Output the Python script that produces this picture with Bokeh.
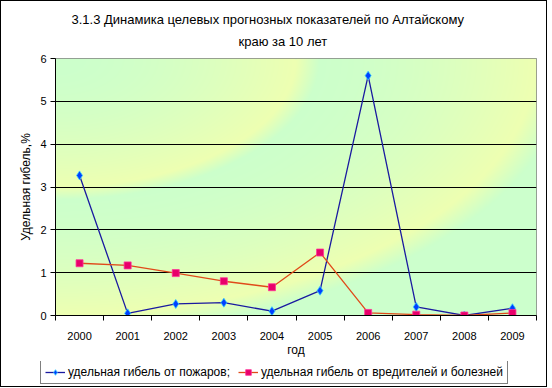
import numpy as np
from bokeh.plotting import figure
from bokeh.layouts import column
from bokeh.models import FixedTicker, Legend, LegendItem, Title
from bokeh.embed import file_html
from bokeh.resources import INLINE

years = ["2000", "2001", "2002", "2003", "2004", "2005", "2006", "2007", "2008", "2009"]
fires = [3.27, 0.05, 0.27, 0.30, 0.10, 0.58, 5.6, 0.20, 0.0, 0.17]
pests = [1.22, 1.17, 0.99, 0.80, 0.66, 1.47, 0.06, 0.02, 0.0, 0.06]
y_ticks = [0, 1, 2, 3, 4, 5, 6]
names = ["удельная гибель от пожаров;", "удельная гибель от вредителей и болезней"]
title1 = "3.1.3 Динамика целевых прогнозных показателей по Алтайскому"
title2 = "краю за 10 лет"

FONT = "Liberation Sans"
xs = list(range(len(years)))
FRW, FRH = 481, 257

p = figure(frame_width=FRW, frame_height=FRH, output_backend="svg", toolbar_location=None,
           x_range=(-0.5, len(years) - 0.5), y_range=(0, 6),
           min_border_left=0, min_border_right=10, min_border_top=0, min_border_bottom=0)
p.margin = (12, 0, 2, 15)

# background gradient (elliptical rings from top-left corner)
H, W = FRH, FRW
vv = 1.0 - np.linspace(0, 1, H)[:, None]
uu = np.linspace(0, 1, W)[None, :]
r = np.sqrt(uu ** 2 + vv ** 2)
t = np.where(r <= 1.02, ((r % 0.5) / 0.5) ** 1.7, 0.0)
t = np.where((r > 0.5) & (r < 0.55), 1.0 - (r - 0.5) / 0.05, t)
t = np.where((r > 1.0) & (r < 1.07), 1.0 - (r - 1.0) / 0.07, t)
t = np.clip(t, 0, 1)
green = np.array([204, 255, 204])
yellow = np.array([238, 255, 178])
img = np.zeros((H, W), dtype=np.uint32)
view = img.view(dtype=np.uint8).reshape((H, W, 4))
for k in range(3):
    view[:, :, k] = (green[k] + (yellow[k] - green[k]) * t).astype(np.uint8)
view[:, :, 3] = 255
bg = p.image_rgba(image=[img], x=-0.5, y=0, dw=len(years), dh=6)
bg.level = "image"

p.title.visible = False
tkw = dict(align="left", text_font=FONT, text_font_size="13px",
           text_font_style="normal", text_color="black")
p.add_layout(Title(text=title2, standoff=19, offset=183, **tkw), "above")
p.add_layout(Title(text=title1, standoff=-8, offset=16, **tkw), "above")

s1 = dict(line_color="#1a1aa0", line_width=1.3)
k1 = dict(marker="diamond", size=9, fill_color="#0040ff", line_color="#33ccff", line_width=0.8)
s2 = dict(line_color="#e04a1a", line_width=1.3)
k2 = dict(marker="square", size=7, fill_color="#e8006a", line_color="#ff3399", line_width=0.8)

p.line(xs, fires, **s1)
p.scatter(xs, fires, **k1)
p.line(xs, pests, **s2)
p.scatter(xs, pests, **k2)

# axes
p.xaxis.ticker = FixedTicker(ticks=xs, minor_ticks=[i - 0.5 for i in range(len(years) + 1)])
p.xaxis.major_label_overrides = {i: y for i, y in enumerate(years)}
p.xaxis.major_tick_line_color = None
p.xaxis.minor_tick_out = 5
p.xaxis.minor_tick_in = 0
p.xaxis.minor_tick_line_color = "black"
p.xaxis.axis_line_color = "black"
p.xaxis.axis_label = "год"
p.xaxis.major_label_standoff = 10
p.xaxis.axis_label_standoff = 0

p.yaxis.ticker = FixedTicker(ticks=y_ticks)
p.yaxis.major_tick_out = 5
p.yaxis.major_tick_in = 0
p.yaxis.minor_tick_line_color = None
p.yaxis.axis_line_color = "black"
p.yaxis.major_tick_line_color = "black"
p.yaxis.axis_label = "Удельная гибель,%"
p.yaxis.major_label_standoff = 4
p.yaxis.axis_label_standoff = 4

for ax in (p.xaxis[0], p.yaxis[0]):
    ax.major_label_text_font = FONT
    ax.major_label_text_font_size = "11px"
    ax.major_label_text_color = "black"
    ax.axis_label_text_font = FONT
    ax.axis_label_text_font_size = "12px"
    ax.axis_label_text_font_style = "normal"
    ax.axis_label_text_color = "black"

p.xgrid.grid_line_color = None
p.ygrid.ticker = FixedTicker(ticks=y_ticks[1:-1])
p.ygrid.grid_line_color = "black"
p.ygrid.grid_line_width = 1
p.outline_line_color = "#808080"
p.outline_line_width = 1

# legend strip below the chart (its series are drawn out of view, only the legend shows)
lf = figure(frame_width=FRW, frame_height=24, output_backend="svg", toolbar_location=None,
            x_range=(-0.5, len(years) - 0.5), y_range=(10, 11), x_axis_type=None, y_axis_type=None,
            min_border_left=32, min_border_right=10, min_border_top=0, min_border_bottom=0)
lf.margin = (0, 0, 1, 0)
lf.outline_line_color = None
lf.xgrid.grid_line_color = None
lf.ygrid.grid_line_color = None
g1 = lf.line(xs, fires, **s1)
g1m = lf.scatter(xs, fires, **k1)
g2 = lf.line(xs, pests, **s2)
g2m = lf.scatter(xs, pests, **k2)
legend = Legend(items=[LegendItem(label=names[0], renderers=[g1, g1m]),
                       LegendItem(label=names[1], renderers=[g2, g2m])],
                orientation="horizontal", location=(0, 1),
                label_text_font=FONT, label_text_font_size="12px", label_text_color="black",
                border_line_color="black", border_line_width=1, background_fill_color="white",
                background_fill_alpha=1,
                glyph_width=20, glyph_height=14, label_standoff=3, spacing=8,
                padding=4, margin=0, label_height=14)
lf.add_layout(legend, "center")

layout = column(p, lf, spacing=0)
layout.styles = {"border": "1px solid black"}

open("out.html", "w").write(file_html(layout, INLINE))
